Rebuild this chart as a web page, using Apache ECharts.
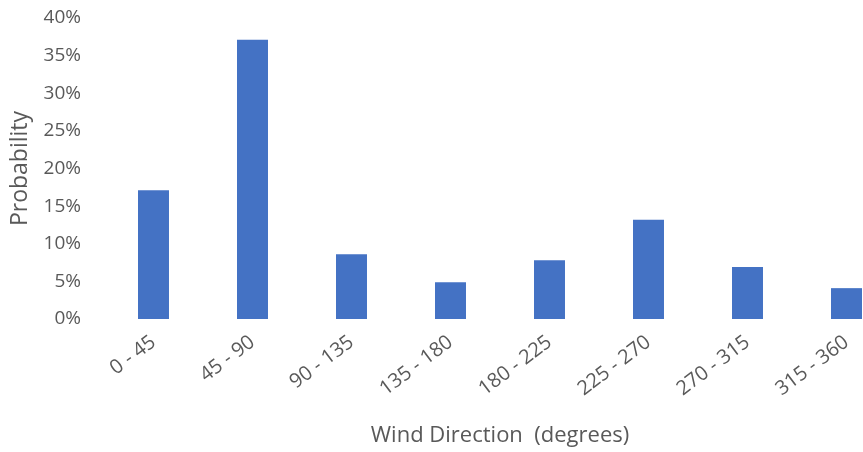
<!DOCTYPE html>
<html>
<head>
<meta charset="utf-8">
<script src="https://cdn.jsdelivr.net/npm/echarts@6/dist/echarts.min.js"></script>
<style>
html,body{margin:0;padding:0;background:#fff;}
#chart{width:863px;height:452px;}
</style>
</head>
<body>
<div id="chart"></div>
<script>
const categories = ['0 - 45','45 - 90','90 - 135','135 - 180','180 - 225','225 - 270','270 - 315','315 - 360'];
const probability = [0.171, 0.371, 0.086, 0.049, 0.078, 0.132, 0.069, 0.041];
const yTicks = [0, 0.05, 0.10, 0.15, 0.20, 0.25, 0.30, 0.35, 0.40];

const FONT = 'Open Sans';
const TXT = '#595959';
const chart = echarts.init(document.getElementById('chart'), null, {renderer:'canvas'});
chart.setOption({
  animation: false,
  backgroundColor: '#ffffff',
  grid: {left: 104, width: 792, top: 18, height: 301, containLabel: false, outerBoundsMode: 'none'},
  xAxis: {
    type: 'category',
    data: categories,
    name: 'Wind Direction  (degrees)',
    nameLocation: 'middle',
    nameGap: 106,
    nameTextStyle: {fontFamily: FONT, fontSize: 22, color: TXT},
    axisLine: {show: false},
    axisTick: {show: false},
    axisLabel: {rotate: 37, margin: 21, fontFamily: FONT, fontSize: 20, color: TXT, interval: 0}
  },
  yAxis: {
    type: 'value',
    min: yTicks[0],
    max: yTicks[yTicks.length-1],
    interval: 0.05,
    name: 'Probability',
    nameLocation: 'middle',
    nameGap: 72,
    nameTextStyle: {fontFamily: FONT, fontSize: 23, color: TXT},
    axisLine: {show: false},
    axisTick: {show: false},
    splitLine: {show: false},
    axisLabel: {
      margin: 23, fontFamily: FONT, fontSize: 19, color: TXT,
      formatter: v => Math.round(v*100) + '%'
    }
  },
  series: [{
    type: 'bar',
    data: probability,
    barWidth: '31.3%',
    itemStyle: {color: '#4472C4'}
  }]
});
</script>
</body>
</html>
